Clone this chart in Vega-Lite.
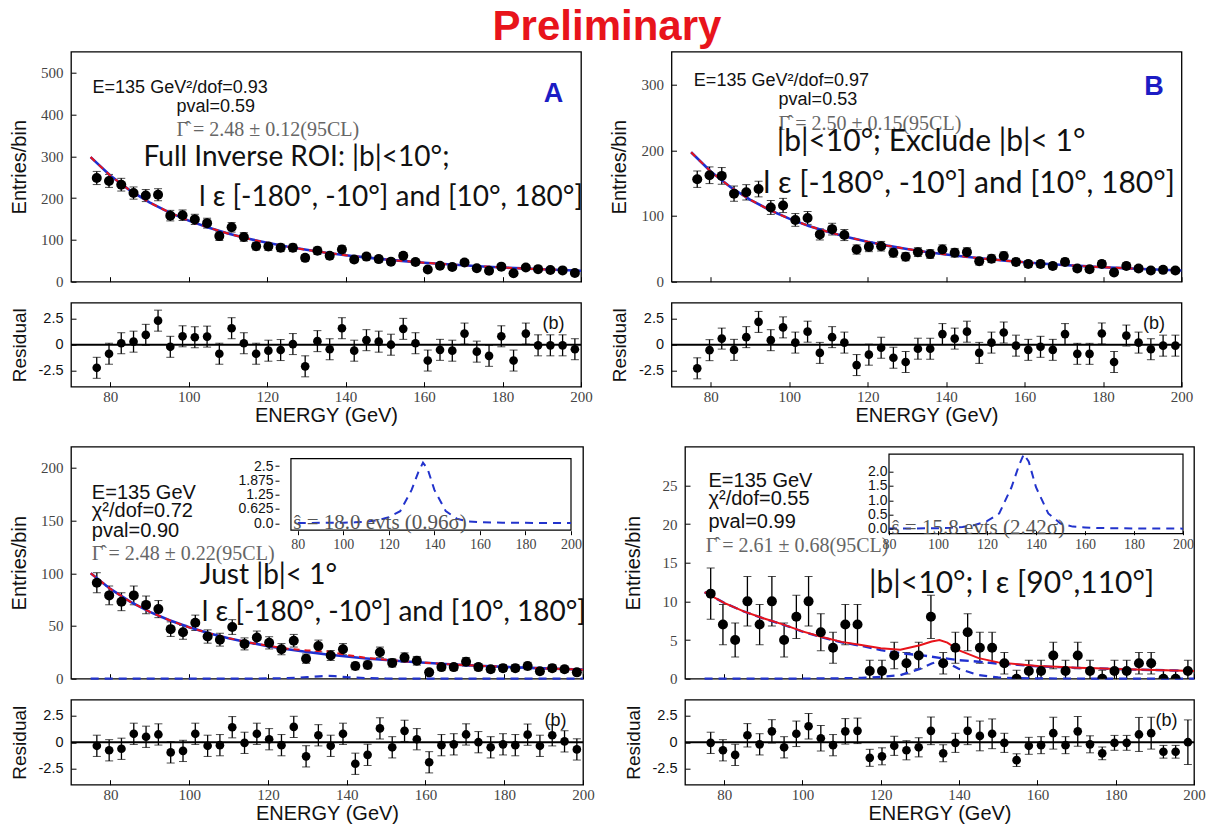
{
"$schema": "https://vega.github.io/schema/vega-lite/v6.json",
"autosize": {"type": "none"},
"padding": {"left": 71, "top": 51.7, "right": 1143, "bottom": 780.3},
"background": "white",
"title": {"text": "Preliminary", "frame": "group", "anchor": "start", "align": "center", "dx": 536, "dy": 48, "font": "Liberation Sans", "fontSize": 42, "fontWeight": "bold", "color": "#e8141b", "baseline": "alphabetic", "offset": 16.7},
"spacing": 19,
"vconcat": [
{"concat": [
 {"width": 510, "height": 230, "data": {"name": "A"}, "layer": [
  {"mark": {"type": "errorbar", "ticks": {"size": 8, "color": "#000"}, "rule": {"color": "#000", "strokeWidth": 1.3}},
   "encoding": {"x": {"field": "E", "type": "quantitative", "scale": {"domain": [75, 200]}, "axis": {"orient": "bottom", "values": [80,100,120,140,160,180,200], "labels": false, "title": null}},
    "y": {"field": "v", "type": "quantitative", "scale": {"domain": [0, 520]}, "axis": {"orient": "left", "values": [0,100,200,300,400,500], "title": "Entries/bin", "labelPadding": 13, "titleX": -52, "titleBaseline": "middle"}},
    "yError": {"field": "e"}}},
  {"data": {"name": "fA"}, "mark": {"type": "line", "color": "#1f2fd0", "strokeWidth": 2.6}, "encoding": {"x": {"field": "E", "type": "quantitative"}, "y": {"field": "bg", "type": "quantitative"}}},
  {"data": {"name": "fA"}, "mark": {"type": "line", "color": "#e8141b", "strokeWidth": 2, "strokeDash": [6, 5]}, "encoding": {"x": {"field": "E", "type": "quantitative"}, "y": {"field": "bg", "type": "quantitative"}}},
  {"mark": {"type": "point", "filled": true, "size": 100, "color": "#000", "opacity": 1}, "encoding": {"x": {"field": "E", "type": "quantitative"}, "y": {"field": "v", "type": "quantitative"}}},
  {"data": {"name": "tA"}, "transform": [{"filter": "datum.k == 'i'"}], "mark": {"type": "text", "align": "left", "baseline": "middle", "font": "Liberation Sans", "fontSize": 18, "color": "#111"}, "encoding": {"x": {"field": "x", "type": "quantitative"}, "y": {"field": "y", "type": "quantitative"}, "text": {"field": "t"}}},
  {"data": {"name": "tA"}, "transform": [{"filter": "datum.k == 'g'"}], "mark": {"type": "text", "align": "left", "baseline": "middle", "font": "Liberation Serif", "fontSize": 20, "color": "#666"}, "encoding": {"x": {"field": "x", "type": "quantitative"}, "y": {"field": "y", "type": "quantitative"}, "text": {"field": "t"}}},
  {"data": {"name": "tA"}, "transform": [{"filter": "datum.k == 'b'"}], "mark": {"type": "text", "align": "left", "baseline": "middle", "font": "Lato", "fontSize": 28, "color": "#111"}, "encoding": {"x": {"field": "x", "type": "quantitative"}, "y": {"field": "y", "type": "quantitative"}, "text": {"field": "t"}}},
  {"data": {"name": "tA"}, "transform": [{"filter": "datum.k == 'l'"}], "mark": {"type": "text", "align": "center", "baseline": "middle", "font": "Liberation Sans", "fontWeight": "bold", "fontSize": 27, "color": "#1c1cc4"}, "encoding": {"x": {"field": "x", "type": "quantitative"}, "y": {"field": "y", "type": "quantitative"}, "text": {"field": "t"}}}
 ]},
 {"width": 510, "height": 230, "data": {"name": "B"}, "layer": [
  {"mark": {"type": "errorbar", "ticks": {"size": 8, "color": "#000"}, "rule": {"color": "#000", "strokeWidth": 1.3}},
   "encoding": {"x": {"field": "E", "type": "quantitative", "scale": {"domain": [75, 200]}, "axis": {"orient": "bottom", "values": [80,100,120,140,160,180,200], "labels": false, "title": null}},
    "y": {"field": "v", "type": "quantitative", "scale": {"domain": [0, 345]}, "axis": {"orient": "left", "values": [0,50,100,150,200,250,300], "title": "Entries/bin", "labelPadding": 13, "titleX": -52, "titleBaseline": "middle"}},
    "yError": {"field": "e"}}},
  {"data": {"name": "fB"}, "mark": {"type": "line", "color": "#1f2fd0", "strokeWidth": 2.6}, "encoding": {"x": {"field": "E", "type": "quantitative"}, "y": {"field": "bg", "type": "quantitative"}}},
  {"data": {"name": "fB"}, "mark": {"type": "line", "color": "#e8141b", "strokeWidth": 2, "strokeDash": [6, 5]}, "encoding": {"x": {"field": "E", "type": "quantitative"}, "y": {"field": "bg", "type": "quantitative"}}},
  {"mark": {"type": "point", "filled": true, "size": 100, "color": "#000", "opacity": 1}, "encoding": {"x": {"field": "E", "type": "quantitative"}, "y": {"field": "v", "type": "quantitative"}}},
  {"data": {"name": "tB"}, "transform": [{"filter": "datum.k == 'i'"}], "mark": {"type": "text", "align": "left", "baseline": "middle", "font": "Liberation Sans", "fontSize": 18, "color": "#111"}, "encoding": {"x": {"field": "x", "type": "quantitative"}, "y": {"field": "y", "type": "quantitative"}, "text": {"field": "t"}}},
  {"data": {"name": "tB"}, "transform": [{"filter": "datum.k == 'g'"}], "mark": {"type": "text", "align": "left", "baseline": "middle", "font": "Liberation Serif", "fontSize": 20, "color": "#666"}, "encoding": {"x": {"field": "x", "type": "quantitative"}, "y": {"field": "y", "type": "quantitative"}, "text": {"field": "t"}}},
  {"data": {"name": "tB"}, "transform": [{"filter": "datum.k == 'b'"}], "mark": {"type": "text", "align": "left", "baseline": "middle", "font": "Lato", "fontSize": 30, "color": "#111"}, "encoding": {"x": {"field": "x", "type": "quantitative"}, "y": {"field": "y", "type": "quantitative"}, "text": {"field": "t"}}},
  {"data": {"name": "tB"}, "transform": [{"filter": "datum.k == 'l'"}], "mark": {"type": "text", "align": "center", "baseline": "middle", "font": "Liberation Sans", "fontWeight": "bold", "fontSize": 27, "color": "#1c1cc4"}, "encoding": {"x": {"field": "x", "type": "quantitative"}, "y": {"field": "y", "type": "quantitative"}, "text": {"field": "t"}}}
 ]},
 {"width": 510, "height": 84, "data": {"name": "A"}, "layer": [
  {"mark": {"type": "errorbar", "ticks": {"size": 8, "color": "#000"}, "rule": {"color": "#000", "strokeWidth": 1.3}},
   "encoding": {"x": {"field": "E", "type": "quantitative", "scale": {"domain": [75, 200]}, "axis": {"orient": "bottom", "values": [80,100,120,140,160,180,200], "title": "ENERGY (GeV)", "labelPadding": 8, "titlePadding": 1}},
    "y": {"field": "r", "type": "quantitative", "scale": {"domain": [-3.6, 3.6]}, "axis": {"orient": "left", "values": [-2.5, 0, 2.5], "labelExpr": "datum.value < 0 ? '-2.5' : (datum.value > 0 ? '2.5' : '0')", "title": "Residual", "titleFontSize": 19, "labelFont": "Liberation Sans", "labelFontSize": 14.5, "labelColor": "#111", "labelPadding": 13, "titleX": -52, "titleBaseline": "middle"}},
    "yError": {"field": "re"}}},
  {"data": {"name": "tb"}, "mark": {"type": "rule", "color": "#000", "strokeWidth": 2}, "encoding": {"y": {"datum": 0}}},
  {"mark": {"type": "point", "filled": true, "size": 75, "color": "#000", "opacity": 1}, "encoding": {"x": {"field": "E", "type": "quantitative"}, "y": {"field": "r", "type": "quantitative"}}},
  {"data": {"name": "tb"}, "mark": {"type": "text", "align": "center", "baseline": "middle", "font": "Liberation Sans", "fontSize": 18, "color": "#111"}, "encoding": {"x": {"field": "x", "type": "quantitative"}, "y": {"field": "y", "type": "quantitative"}, "text": {"field": "t"}}}
 ]},
 {"width": 510, "height": 84, "data": {"name": "B"}, "layer": [
  {"mark": {"type": "errorbar", "ticks": {"size": 8, "color": "#000"}, "rule": {"color": "#000", "strokeWidth": 1.3}},
   "encoding": {"x": {"field": "E", "type": "quantitative", "scale": {"domain": [75, 200]}, "axis": {"orient": "bottom", "values": [80,100,120,140,160,180,200], "title": "ENERGY (GeV)", "labelPadding": 8, "titlePadding": 1}},
    "y": {"field": "r", "type": "quantitative", "scale": {"domain": [-3.6, 3.6]}, "axis": {"orient": "left", "values": [-2.5, 0, 2.5], "labelExpr": "datum.value < 0 ? '-2.5' : (datum.value > 0 ? '2.5' : '0')", "title": "Residual", "titleFontSize": 19, "labelFont": "Liberation Sans", "labelFontSize": 14.5, "labelColor": "#111", "labelPadding": 13, "titleX": -52, "titleBaseline": "middle"}},
    "yError": {"field": "re"}}},
  {"data": {"name": "tb"}, "mark": {"type": "rule", "color": "#000", "strokeWidth": 2}, "encoding": {"y": {"datum": 0}}},
  {"mark": {"type": "point", "filled": true, "size": 75, "color": "#000", "opacity": 1}, "encoding": {"x": {"field": "E", "type": "quantitative"}, "y": {"field": "r", "type": "quantitative"}}},
  {"data": {"name": "tb"}, "mark": {"type": "text", "align": "center", "baseline": "middle", "font": "Liberation Sans", "fontSize": 18, "color": "#111"}, "encoding": {"x": {"field": "x", "type": "quantitative"}, "y": {"field": "y", "type": "quantitative"}, "text": {"field": "t"}}}
 ]}
], "columns": 2, "bounds": "flush", "spacing": {"row": 21, "column": 90.5}},
{"concat": [
 {"width": 512, "height": 232, "layer": [
  {"data": {"name": "C"}, "layer": [
   {"mark": {"type": "errorbar", "ticks": {"size": 8, "color": "#000"}, "rule": {"color": "#000", "strokeWidth": 1.3}},
    "encoding": {"x": {"field": "E", "type": "quantitative", "scale": {"domain": [75, 200]}, "axis": {"orient": "bottom", "values": [80,100,120,140,160,180,200], "labels": false, "title": null}},
     "y": {"field": "v", "type": "quantitative", "scale": {"domain": [0, 201.7]}, "axis": {"orient": "left", "values": [0,50,100,150,200], "title": "Entries/bin", "labelPadding": 13, "titleX": -52, "titleBaseline": "middle"}},
     "yError": {"field": "e"}}},
   {"data": {"name": "fC"}, "mark": {"type": "line", "color": "#2233cc", "strokeWidth": 2.2, "strokeDash": [8, 6]}, "encoding": {"x": {"field": "E", "type": "quantitative"}, "y": {"field": "sig", "type": "quantitative"}}},
   {"data": {"name": "fC"}, "mark": {"type": "line", "color": "#1f2fd0", "strokeWidth": 2.6}, "encoding": {"x": {"field": "E", "type": "quantitative"}, "y": {"field": "bg", "type": "quantitative"}}},
   {"data": {"name": "fC"}, "mark": {"type": "line", "color": "#e8141b", "strokeWidth": 2, "strokeDash": [6, 5]}, "encoding": {"x": {"field": "E", "type": "quantitative"}, "y": {"field": "tot", "type": "quantitative"}}},
   {"mark": {"type": "point", "filled": true, "size": 100, "color": "#000", "opacity": 1}, "encoding": {"x": {"field": "E", "type": "quantitative"}, "y": {"field": "v", "type": "quantitative"}}},
   {"data": {"name": "tC"}, "transform": [{"filter": "datum.k == 'i'"}], "mark": {"type": "text", "align": "left", "baseline": "middle", "font": "Liberation Sans", "fontSize": 20, "color": "#111"}, "encoding": {"x": {"field": "x", "type": "quantitative"}, "y": {"field": "y", "type": "quantitative"}, "text": {"field": "t"}}},
   {"data": {"name": "tC"}, "transform": [{"filter": "datum.k == 'g'"}], "mark": {"type": "text", "align": "left", "baseline": "middle", "font": "Liberation Serif", "fontSize": 20, "color": "#666"}, "encoding": {"x": {"field": "x", "type": "quantitative"}, "y": {"field": "y", "type": "quantitative"}, "text": {"field": "t"}}},
   {"data": {"name": "tC"}, "transform": [{"filter": "datum.k == 'b'"}], "mark": {"type": "text", "align": "left", "baseline": "middle", "font": "Lato", "fontSize": 28, "color": "#111"}, "encoding": {"x": {"field": "x", "type": "quantitative"}, "y": {"field": "y", "type": "quantitative"}, "text": {"field": "t"}}},
   {"data": {"name": "tC"}, "transform": [{"filter": "datum.k == 'l'"}], "mark": {"type": "text", "align": "center", "baseline": "middle", "font": "Liberation Sans", "fontWeight": "bold", "fontSize": 27, "color": "#1c1cc4"}, "encoding": {"x": {"field": "x", "type": "quantitative"}, "y": {"field": "y", "type": "quantitative"}, "text": {"field": "t"}}}
  ]},
  {"layer": [
   {"data": {"name": "tb"}, "mark": {"type": "rect", "fill": "#fff", "stroke": "#000", "strokeWidth": 1.2},
    "encoding": {"x": {"datum": 77, "type": "quantitative", "scale": {"domain": [77, 200], "range": [204, 500]}, "axis": {"orient": "bottom", "offset": -144, "values": [80,100,120,140,160,180,200], "title": null, "tickSize": -4, "labelPadding": 7, "labelFontSize": 14, "zindex": 1}},
     "x2": {"datum": 200},
     "y": {"datum": -0.3, "type": "quantitative", "scale": {"domain": [-0.3, 2.83], "range": [88, 8]}, "axis": {"orient": "left", "offset": -204, "values": [0, 0.625, 1.25, 1.875, 2.5], "labelExpr": "datum.value == 0 ? '0.0' : '' + datum.value", "title": null, "tickSize": -4, "labelPadding": 6, "labelFont": "Liberation Sans", "labelFontSize": 14, "labelColor": "#111", "zindex": 1}},
     "y2": {"datum": 2.83}}},
   {"data": {"name": "fC"}, "transform": [{"filter": "datum.E >= 77"}], "mark": {"type": "line", "color": "#2233cc", "strokeWidth": 2, "strokeDash": [8, 6]}, "encoding": {"x": {"field": "E", "type": "quantitative"}, "y": {"field": "sig", "type": "quantitative"}}},
   {"data": {"name": "iC"}, "mark": {"type": "text", "align": "left", "baseline": "middle", "font": "Liberation Serif", "fontSize": 21, "color": "#555"}, "encoding": {"x": {"field": "x", "type": "quantitative"}, "y": {"field": "y", "type": "quantitative"}, "text": {"field": "t"}}}
  ]}
 ], "resolve": {"scale": {"x": "independent", "y": "independent"}}},
 {"width": 509, "height": 232, "layer": [
  {"data": {"name": "D"}, "layer": [
   {"mark": {"type": "errorbar", "clip": true, "ticks": {"size": 8, "color": "#000"}, "rule": {"color": "#000", "strokeWidth": 1.3}},
    "encoding": {"x": {"field": "E", "type": "quantitative", "scale": {"domain": [75, 200]}, "axis": {"orient": "bottom", "values": [80,100,120,140,160,180,200], "labels": false, "title": null}},
     "y": {"field": "v", "type": "quantitative", "scale": {"domain": [0, 29.1]}, "axis": {"orient": "left", "values": [0,5,10,15,20,25], "title": "Entries/bin", "labelPadding": 13, "titleX": -52, "titleBaseline": "middle"}},
     "yError": {"field": "e"}}},
   {"data": {"name": "fD"}, "mark": {"type": "line", "color": "#2233cc", "strokeWidth": 2.2, "strokeDash": [8, 6]}, "encoding": {"x": {"field": "E", "type": "quantitative"}, "y": {"field": "sig", "type": "quantitative"}}},
   {"data": {"name": "fD"}, "mark": {"type": "line", "color": "#1f2fd0", "strokeWidth": 2.4, "strokeDash": [9, 5]}, "encoding": {"x": {"field": "E", "type": "quantitative"}, "y": {"field": "bg", "type": "quantitative"}}},
   {"data": {"name": "fD"}, "mark": {"type": "line", "color": "#e8141b", "strokeWidth": 2}, "encoding": {"x": {"field": "E", "type": "quantitative"}, "y": {"field": "tot", "type": "quantitative"}}},
   {"mark": {"type": "point", "filled": true, "size": 100, "color": "#000", "opacity": 1, "clip": true}, "encoding": {"x": {"field": "E", "type": "quantitative"}, "y": {"field": "v", "type": "quantitative"}}},
   {"data": {"name": "tD"}, "transform": [{"filter": "datum.k == 'i'"}], "mark": {"type": "text", "align": "left", "baseline": "middle", "font": "Liberation Sans", "fontSize": 20, "color": "#111"}, "encoding": {"x": {"field": "x", "type": "quantitative"}, "y": {"field": "y", "type": "quantitative"}, "text": {"field": "t"}}},
   {"data": {"name": "tD"}, "transform": [{"filter": "datum.k == 'g'"}], "mark": {"type": "text", "align": "left", "baseline": "middle", "font": "Liberation Serif", "fontSize": 20, "color": "#666"}, "encoding": {"x": {"field": "x", "type": "quantitative"}, "y": {"field": "y", "type": "quantitative"}, "text": {"field": "t"}}},
   {"data": {"name": "tD"}, "transform": [{"filter": "datum.k == 'b'"}], "mark": {"type": "text", "align": "left", "baseline": "middle", "font": "Lato", "fontSize": 30, "color": "#111"}, "encoding": {"x": {"field": "x", "type": "quantitative"}, "y": {"field": "y", "type": "quantitative"}, "text": {"field": "t"}}},
   {"data": {"name": "tD"}, "transform": [{"filter": "datum.k == 'l'"}], "mark": {"type": "text", "align": "center", "baseline": "middle", "font": "Liberation Sans", "fontWeight": "bold", "fontSize": 27, "color": "#1c1cc4"}, "encoding": {"x": {"field": "x", "type": "quantitative"}, "y": {"field": "y", "type": "quantitative"}, "text": {"field": "t"}}}
  ]},
  {"layer": [
   {"data": {"name": "tb"}, "mark": {"type": "rect", "fill": "#fff", "stroke": "#000", "strokeWidth": 1.2},
    "encoding": {"x": {"datum": 80, "type": "quantitative", "scale": {"domain": [80, 200], "range": [204, 498]}, "axis": {"orient": "bottom", "offset": -144, "values": [80,100,120,140,160,180,200], "title": null, "tickSize": -4, "labelPadding": 7, "labelFontSize": 14, "zindex": 1}},
     "x2": {"datum": 200},
     "y": {"datum": -0.16, "type": "quantitative", "scale": {"domain": [-0.16, 2.6], "range": [88, 7.5]}, "axis": {"orient": "left", "offset": -204, "values": [0, 0.5, 1, 1.5, 2], "format": ".1f", "title": null, "tickSize": -4, "labelPadding": 6, "labelFont": "Liberation Sans", "labelFontSize": 14, "labelColor": "#111", "zindex": 1}},
     "y2": {"datum": 2.6}}},
   {"data": {"name": "fD"}, "transform": [{"filter": "datum.E >= 80"}], "mark": {"type": "line", "color": "#2233cc", "strokeWidth": 2, "strokeDash": [8, 6]}, "encoding": {"x": {"field": "E", "type": "quantitative"}, "y": {"field": "ins", "type": "quantitative"}}},
   {"data": {"name": "iD"}, "mark": {"type": "text", "align": "left", "baseline": "middle", "font": "Liberation Serif", "fontSize": 21, "color": "#555"}, "encoding": {"x": {"field": "x", "type": "quantitative"}, "y": {"field": "y", "type": "quantitative"}, "text": {"field": "t"}}}
  ]}
 ], "resolve": {"scale": {"x": "independent", "y": "independent"}}},
 {"width": 512, "height": 85, "data": {"name": "C"}, "layer": [
  {"mark": {"type": "errorbar", "ticks": {"size": 8, "color": "#000"}, "rule": {"color": "#000", "strokeWidth": 1.3}},
   "encoding": {"x": {"field": "E", "type": "quantitative", "scale": {"domain": [75, 200]}, "axis": {"orient": "bottom", "values": [80,100,120,140,160,180,200], "title": "ENERGY (GeV)", "labelPadding": 8, "titlePadding": 1}},
    "y": {"field": "r", "type": "quantitative", "scale": {"domain": [-3.6, 3.6]}, "axis": {"orient": "left", "values": [-2.5, 0, 2.5], "labelExpr": "datum.value < 0 ? '-2.5' : (datum.value > 0 ? '2.5' : '0')", "title": "Residual", "titleFontSize": 19, "labelFont": "Liberation Sans", "labelFontSize": 14.5, "labelColor": "#111", "labelPadding": 13, "titleX": -52, "titleBaseline": "middle"}},
    "yError": {"field": "re"}}},
  {"data": {"name": "tb"}, "mark": {"type": "rule", "color": "#000", "strokeWidth": 2}, "encoding": {"y": {"datum": 0}}},
  {"mark": {"type": "point", "filled": true, "size": 75, "color": "#000", "opacity": 1}, "encoding": {"x": {"field": "E", "type": "quantitative"}, "y": {"field": "r", "type": "quantitative"}}},
  {"data": {"name": "tb"}, "mark": {"type": "text", "align": "center", "baseline": "middle", "font": "Liberation Sans", "fontSize": 18, "color": "#111"}, "encoding": {"x": {"field": "x", "type": "quantitative"}, "y": {"field": "y", "type": "quantitative"}, "text": {"field": "t"}}}
 ]},
 {"width": 509, "height": 85, "data": {"name": "D"}, "layer": [
  {"mark": {"type": "errorbar", "ticks": {"size": 8, "color": "#000"}, "rule": {"color": "#000", "strokeWidth": 1.3}},
   "encoding": {"x": {"field": "E", "type": "quantitative", "scale": {"domain": [75, 200]}, "axis": {"orient": "bottom", "values": [80,100,120,140,160,180,200], "title": "ENERGY (GeV)", "labelPadding": 8, "titlePadding": 1}},
    "y": {"field": "r", "type": "quantitative", "scale": {"domain": [-3.6, 3.6]}, "axis": {"orient": "left", "values": [-2.5, 0, 2.5], "labelExpr": "datum.value < 0 ? '-2.5' : (datum.value > 0 ? '2.5' : '0')", "title": "Residual", "titleFontSize": 19, "labelFont": "Liberation Sans", "labelFontSize": 14.5, "labelColor": "#111", "labelPadding": 13, "titleX": -52, "titleBaseline": "middle"}},
    "yError": {"field": "re"}}},
  {"data": {"name": "tb"}, "mark": {"type": "rule", "color": "#000", "strokeWidth": 2}, "encoding": {"y": {"datum": 0}}},
  {"mark": {"type": "point", "filled": true, "size": 75, "color": "#000", "opacity": 1}, "encoding": {"x": {"field": "E", "type": "quantitative"}, "y": {"field": "r", "type": "quantitative"}}},
  {"data": {"name": "tb"}, "mark": {"type": "text", "align": "center", "baseline": "middle", "font": "Liberation Sans", "fontSize": 18, "color": "#111"}, "encoding": {"x": {"field": "x", "type": "quantitative"}, "y": {"field": "y", "type": "quantitative"}, "text": {"field": "t"}}}
 ]}
], "columns": 2, "bounds": "flush", "spacing": {"row": 21, "column": 102}}
],
"datasets": {
"A": [
{"E":76.56,"v":248,"e":15.7,"r":-2.2,"re":1},{"E":79.69,"v":241,"e":15.5,"r":-0.86,"re":1},{"E":82.81,"v":232,"e":15.2,"r":0.14,"re":1},{"E":85.94,"v":212,"e":14.6,"r":0.29,"re":1},{"E":89.06,"v":206,"e":14.4,"r":0.94,"re":1},{"E":92.19,"v":208,"e":14.4,"r":2.29,"re":1},{"E":95.31,"v":158,"e":12.6,"r":-0.2,"re":1},{"E":98.44,"v":159,"e":12.6,"r":0.8,"re":1},{"E":101.56,"v":149,"e":12.2,"r":0.71,"re":1},{"E":104.69,"v":140,"e":11.8,"r":0.77,"re":1},
{"E":107.81,"v":109,"e":10.4,"r":-0.86,"re":1},{"E":110.94,"v":130,"e":11.4,"r":1.57,"re":1},{"E":114.06,"v":107,"e":10.3,"r":0.14,"re":1},{"E":117.19,"v":85,"e":9.2,"r":-0.86,"re":1},{"E":120.31,"v":84,"e":9.2,"r":-0.57,"re":1},{"E":123.44,"v":81,"e":9,"r":-0.51,"re":1},{"E":126.56,"v":81,"e":9,"r":0.06,"re":1},{"E":129.69,"v":57,"e":7.5,"r":-2.06,"re":1},{"E":132.81,"v":74,"e":8.6,"r":0.34,"re":1},{"E":135.94,"v":62,"e":7.9,"r":-0.43,"re":1},
{"E":139.06,"v":77,"e":8.8,"r":1.57,"re":1},{"E":142.19,"v":53,"e":7.3,"r":-0.57,"re":1},{"E":145.31,"v":60,"e":7.7,"r":0.43,"re":1},{"E":148.44,"v":54,"e":7.3,"r":0.29,"re":1},{"E":151.56,"v":48,"e":6.9,"r":0,"re":1},{"E":154.69,"v":62,"e":7.9,"r":1.51,"re":1},{"E":157.81,"v":47,"e":6.9,"r":0.14,"re":1},{"E":160.94,"v":29,"e":5.4,"r":-1.51,"re":1},{"E":164.06,"v":38,"e":6.2,"r":-0.49,"re":1},{"E":167.19,"v":35,"e":5.9,"r":-0.57,"re":1},
{"E":170.31,"v":46,"e":6.8,"r":1.06,"re":1},{"E":173.44,"v":32,"e":5.7,"r":-0.66,"re":1},{"E":176.56,"v":26,"e":5.1,"r":-1.06,"re":1},{"E":179.69,"v":36,"e":6,"r":0.8,"re":1},{"E":182.81,"v":20,"e":4.5,"r":-1.51,"re":1},{"E":185.94,"v":34,"e":5.8,"r":1.06,"re":1},{"E":189.06,"v":30,"e":5.5,"r":-0.06,"re":1},{"E":192.19,"v":28,"e":5.3,"r":-0.06,"re":1},{"E":195.31,"v":27,"e":5.2,"r":-0.06,"re":1},{"E":198.44,"v":21,"e":4.6,"r":-0.43,"re":1}
],
"B": [
{"E":76.56,"v":156,"e":12.5,"r":-2.25,"re":1},{"E":79.69,"v":162,"e":12.7,"r":-0.52,"re":1},{"E":82.81,"v":161,"e":12.7,"r":0.58,"re":1},{"E":85.94,"v":134,"e":11.6,"r":-0.49,"re":1},{"E":89.06,"v":136,"e":11.7,"r":0.72,"re":1},{"E":92.19,"v":141,"e":11.9,"r":2.17,"re":1},{"E":95.31,"v":113,"e":10.6,"r":0.43,"re":1},{"E":98.44,"v":116,"e":10.8,"r":1.65,"re":1},{"E":101.56,"v":94,"e":9.7,"r":0.2,"re":1},{"E":104.69,"v":97,"e":9.8,"r":1.24,"re":1},
{"E":107.81,"v":72,"e":8.5,"r":-0.78,"re":1},{"E":110.94,"v":80,"e":8.9,"r":0.72,"re":1},{"E":114.06,"v":71,"e":8.4,"r":0.2,"re":1},{"E":117.19,"v":49,"e":7,"r":-1.94,"re":1},{"E":120.31,"v":53,"e":7.3,"r":-0.95,"re":1},{"E":123.44,"v":54,"e":7.3,"r":-0.29,"re":1},{"E":126.56,"v":44,"e":6.6,"r":-1.24,"re":1},{"E":129.69,"v":38,"e":6.2,"r":-1.65,"re":1},{"E":132.81,"v":45,"e":6.7,"r":-0.38,"re":1},{"E":135.94,"v":42,"e":6.5,"r":-0.38,"re":1},
{"E":139.06,"v":49,"e":7,"r":1.01,"re":1},{"E":142.19,"v":44,"e":6.6,"r":0.58,"re":1},{"E":145.31,"v":45,"e":6.7,"r":1.24,"re":1},{"E":148.44,"v":31,"e":5.6,"r":-0.78,"re":1},{"E":151.56,"v":35,"e":5.9,"r":0.2,"re":1},{"E":154.69,"v":39,"e":6.2,"r":1.16,"re":1},{"E":157.81,"v":30,"e":5.5,"r":-0.09,"re":1},{"E":160.94,"v":27,"e":5.2,"r":-0.49,"re":1},{"E":164.06,"v":27,"e":5.2,"r":-0.2,"re":1},{"E":167.19,"v":24,"e":4.9,"r":-0.49,"re":1},
{"E":170.31,"v":30,"e":5.5,"r":1.01,"re":1},{"E":173.44,"v":20,"e":4.5,"r":-0.87,"re":1},{"E":176.56,"v":19,"e":4.4,"r":-0.87,"re":1},{"E":179.69,"v":27,"e":5.2,"r":1.07,"re":1},{"E":182.81,"v":14,"e":3.7,"r":-1.65,"re":1},{"E":185.94,"v":24,"e":4.9,"r":0.87,"re":1},{"E":189.06,"v":20,"e":4.5,"r":0.2,"re":1},{"E":192.19,"v":17,"e":4.1,"r":-0.43,"re":1},{"E":195.31,"v":18,"e":4.2,"r":-0.09,"re":1},{"E":198.44,"v":17,"e":4.1,"r":-0.09,"re":1}
],
"C": [
{"E":76.56,"v":91,"e":9.5,"r":-0.34,"re":1},{"E":79.69,"v":79,"e":8.9,"r":-0.76,"re":1},{"E":82.81,"v":73,"e":8.5,"r":-0.62,"re":1},{"E":85.94,"v":79,"e":8.9,"r":0.79,"re":1},{"E":89.06,"v":70,"e":8.4,"r":0.51,"re":1},{"E":92.19,"v":66,"e":8.1,"r":0.73,"re":1},{"E":95.31,"v":47,"e":6.9,"r":-0.96,"re":1},{"E":98.44,"v":44,"e":6.6,"r":-0.82,"re":1},{"E":101.56,"v":53,"e":7.3,"r":0.79,"re":1},{"E":104.69,"v":40,"e":6.3,"r":-0.34,"re":1},
{"E":107.81,"v":37,"e":6.1,"r":-0.28,"re":1},{"E":110.94,"v":49,"e":7,"r":1.41,"re":1},{"E":114.06,"v":33,"e":5.7,"r":-0.06,"re":1},{"E":117.19,"v":39,"e":6.2,"r":0.79,"re":1},{"E":120.31,"v":34,"e":5.8,"r":0.28,"re":1},{"E":123.44,"v":28,"e":5.3,"r":-0.28,"re":1},{"E":126.56,"v":36,"e":6,"r":1.44,"re":1},{"E":129.69,"v":19,"e":4.4,"r":-1.33,"re":1},{"E":132.81,"v":31,"e":5.6,"r":0.65,"re":1},{"E":135.94,"v":22,"e":4.7,"r":-0.34,"re":1},
{"E":139.06,"v":28,"e":5.3,"r":0.79,"re":1},{"E":142.19,"v":12,"e":3.5,"r":-2.03,"re":1},{"E":145.31,"v":13,"e":3.6,"r":-1.19,"re":1},{"E":148.44,"v":25,"e":5,"r":1.3,"re":1},{"E":151.56,"v":15,"e":3.9,"r":-0.48,"re":1},{"E":154.69,"v":20,"e":4.5,"r":1.07,"re":1},{"E":157.81,"v":17,"e":4.1,"r":0.28,"re":1},{"E":160.94,"v":6,"e":2.4,"r":-1.89,"re":1},{"E":164.06,"v":11,"e":3.3,"r":-0.28,"re":1},{"E":167.19,"v":11,"e":3.3,"r":-0.2,"re":1},
{"E":170.31,"v":16,"e":4,"r":0.73,"re":1},{"E":173.44,"v":11,"e":3.3,"r":0,"re":1},{"E":176.56,"v":9,"e":3,"r":-0.48,"re":1},{"E":179.69,"v":10,"e":3.2,"r":-0.2,"re":1},{"E":182.81,"v":10,"e":3.2,"r":-0.28,"re":1},{"E":185.94,"v":12,"e":3.5,"r":0.71,"re":1},{"E":189.06,"v":7,"e":2.6,"r":-0.34,"re":1},{"E":192.19,"v":10,"e":3.2,"r":0.65,"re":1},{"E":195.31,"v":9,"e":3,"r":0.08,"re":1},{"E":198.44,"v":6,"e":2.4,"r":-0.68,"re":1}
],
"D": [
{"E":76.56,"v":11,"e":3.3,"r":-0.06,"re":1},{"E":79.69,"v":7,"e":2.6,"r":-0.76,"re":1},{"E":82.81,"v":5,"e":2.2,"r":-1.19,"re":1},{"E":85.94,"v":10,"e":3.2,"r":0.65,"re":1.1},{"E":89.06,"v":7,"e":2.6,"r":-0.2,"re":1},{"E":92.19,"v":10,"e":3.2,"r":1.02,"re":1.1},{"E":95.31,"v":5,"e":2.2,"r":-0.48,"re":1},{"E":98.44,"v":8,"e":2.8,"r":0.79,"re":1.2},{"E":101.56,"v":10,"e":3.2,"r":1.5,"re":1.2},{"E":104.69,"v":6,"e":2.4,"r":0.37,"re":1.2},
{"E":107.81,"v":4,"e":2,"r":-0.28,"re":1},{"E":110.94,"v":7,"e":2.6,"r":1.02,"re":1.2},{"E":114.06,"v":7,"e":2.6,"r":1.07,"re":1.2},{"E":117.19,"v":1,"e":1.4,"r":-1.47,"re":0.8},{"E":120.31,"v":1,"e":1.4,"r":-1.33,"re":0.8},{"E":123.44,"v":3,"e":1.7,"r":-0.34,"re":0.9},{"E":126.56,"v":2,"e":1.4,"r":-0.76,"re":0.9},{"E":129.69,"v":3,"e":1.7,"r":-0.48,"re":0.9},{"E":132.81,"v":8,"e":2.8,"r":1.07,"re":1.3},{"E":135.94,"v":2,"e":1.4,"r":-1.05,"re":0.8},
{"E":139.06,"v":4,"e":2,"r":-0.06,"re":0.9},{"E":142.19,"v":6,"e":2.4,"r":1.07,"re":1.3},{"E":145.31,"v":4,"e":2,"r":0.59,"re":1.4},{"E":148.44,"v":4,"e":2,"r":0.79,"re":1.4},{"E":151.56,"v":2,"e":1.4,"r":-0.06,"re":0.9},{"E":154.69,"v":0,"e":1.1,"r":-1.69,"re":0.6},{"E":157.81,"v":1,"e":1.4,"r":-0.34,"re":0.8},{"E":160.94,"v":1,"e":1.4,"r":-0.28,"re":0.8},{"E":164.06,"v":3,"e":1.7,"r":0.85,"re":1.5},{"E":167.19,"v":1,"e":1.4,"r":-0.28,"re":0.8},
{"E":170.31,"v":3,"e":1.7,"r":1.02,"re":1.4},{"E":173.44,"v":1,"e":1.4,"r":-0.2,"re":0.8},{"E":176.56,"v":0,"e":1.1,"r":-1.05,"re":0.6},{"E":179.69,"v":1,"e":1.4,"r":-0.06,"re":0.7},{"E":182.81,"v":1,"e":1.4,"r":-0.06,"re":0.7},{"E":185.94,"v":2,"e":1.4,"r":0.73,"re":1.6},{"E":189.06,"v":2,"e":1.4,"r":0.85,"re":1.5},{"E":192.19,"v":0,"e":1.1,"r":-0.9,"re":0.6},{"E":195.31,"v":0,"e":1.1,"r":-0.9,"re":0.6},{"E":198.44,"v":1,"e":1.4,"r":0,"re":2.1}
],
"fA": [
{"E":75,"bg":298},{"E":80,"bg":253.9},{"E":85,"bg":218.5},{"E":90,"bg":189.6},{"E":95,"bg":165.8},{"E":100,"bg":146},{"E":105,"bg":129.4},{"E":110,"bg":115.3},{"E":115,"bg":103.2},{"E":120,"bg":92.9},{"E":125,"bg":84},{"E":130,"bg":76.2},{"E":135,"bg":69.4},{"E":140,"bg":63.4},{"E":145,"bg":58.1},{"E":150,"bg":53.4},{"E":155,"bg":49.2},{"E":160,"bg":45.5},{"E":165,"bg":42.2},{"E":170,"bg":39.2},{"E":175,"bg":36.4},{"E":180,"bg":34},{"E":185,"bg":31.8},{"E":190,"bg":29.7},{"E":195,"bg":27.8},{"E":200,"bg":26.2}
],
"fB": [
{"E":75,"bg":197},{"E":80,"bg":167.7},{"E":85,"bg":144.1},{"E":90,"bg":124.9},{"E":95,"bg":109.1},{"E":100,"bg":96},{"E":105,"bg":84.9},{"E":110,"bg":75.6},{"E":115,"bg":67.7},{"E":120,"bg":60.8},{"E":125,"bg":54.9},{"E":130,"bg":49.8},{"E":135,"bg":45.3},{"E":140,"bg":41.4},{"E":145,"bg":37.9},{"E":150,"bg":34.8},{"E":155,"bg":32.1},{"E":160,"bg":29.6},{"E":165,"bg":27.4},{"E":170,"bg":25.5},{"E":175,"bg":23.7},{"E":180,"bg":22.1},{"E":185,"bg":20.6},{"E":190,"bg":19.3},{"E":195,"bg":18.1},{"E":200,"bg":17}
],
"fC": [
{"E":75,"bg":100,"sig":0.011,"tot":100},{"E":80,"bg":85.1,"sig":0.013,"tot":85.1},{"E":85,"bg":73.1,"sig":0.016,"tot":73.1},{"E":90,"bg":63.4,"sig":0.019,"tot":63.4},{"E":95,"bg":55.4,"sig":0.021,"tot":55.4},{"E":100,"bg":48.7,"sig":0.027,"tot":48.7},{"E":105,"bg":43.1,"sig":0.04,"tot":43.1},{"E":110,"bg":38.4,"sig":0.066,"tot":38.5},{"E":115,"bg":34.4,"sig":0.13,"tot":34.5},{"E":120,"bg":30.9,"sig":0.27,"tot":31.2},
{"E":125,"bg":27.9,"sig":0.53,"tot":28.4},{"E":130,"bg":25.3,"sig":1.46,"tot":26.8},{"E":133,"bg":23.9,"sig":2.25,"tot":26.2},{"E":135,"bg":23,"sig":2.65,"tot":25.7},{"E":137,"bg":22.2,"sig":2.39,"tot":24.6},{"E":140,"bg":21,"sig":1.46,"tot":22.5},{"E":145,"bg":19.2,"sig":0.53,"tot":19.7},{"E":150,"bg":17.7,"sig":0.19,"tot":17.9},{"E":155,"bg":16.3,"sig":0.08,"tot":16.4},{"E":160,"bg":15.1,"sig":0.053,"tot":15.2},
{"E":165,"bg":13.9,"sig":0.032,"tot":13.9},{"E":170,"bg":12.9,"sig":0.027,"tot":12.9},{"E":175,"bg":12,"sig":0.021,"tot":12},{"E":180,"bg":11.2,"sig":0.019,"tot":11.2},{"E":185,"bg":10.5,"sig":0.016,"tot":10.5},{"E":190,"bg":9.8,"sig":0.013,"tot":9.8},{"E":195,"bg":9.2,"sig":0.013,"tot":9.2},{"E":200,"bg":8.6,"sig":0.011,"tot":8.6}
],
"fD": [
{"E":75,"bg":11.2,"sig":0.009,"tot":11.21,"ins":0.011},{"E":80,"bg":9.8,"sig":0.012,"tot":9.81,"ins":0.014},{"E":85,"bg":8.7,"sig":0.014,"tot":8.71,"ins":0.016},{"E":90,"bg":7.8,"sig":0.016,"tot":7.82,"ins":0.019},{"E":95,"bg":7,"sig":0.018,"tot":7.02,"ins":0.022},{"E":100,"bg":6.1,"sig":0.023,"tot":6.12,"ins":0.027},{"E":105,"bg":5.35,"sig":0.035,"tot":5.39,"ins":0.04},{"E":110,"bg":4.7,"sig":0.058,"tot":4.76,"ins":0.068},{"E":115,"bg":4.25,"sig":0.115,"tot":4.37,"ins":0.135},{"E":120,"bg":3.7,"sig":0.23,"tot":3.93,"ins":0.27},
{"E":125,"bg":3.3,"sig":0.46,"tot":3.76,"ins":0.54},{"E":130,"bg":3.05,"sig":1.27,"tot":4.32,"ins":1.45},{"E":133,"bg":2.85,"sig":1.96,"tot":4.81,"ins":2.2},{"E":135,"bg":2.7,"sig":2.3,"tot":5,"ins":2.6},{"E":137,"bg":2.6,"sig":2.07,"tot":4.67,"ins":2.35},{"E":140,"bg":2.4,"sig":1.27,"tot":3.67,"ins":1.45},{"E":145,"bg":2.2,"sig":0.46,"tot":2.66,"ins":0.54},{"E":150,"bg":1.95,"sig":0.16,"tot":2.11,"ins":0.19},{"E":155,"bg":1.8,"sig":0.069,"tot":1.87,"ins":0.081},{"E":160,"bg":1.6,"sig":0.046,"tot":1.65,"ins":0.054},
{"E":165,"bg":1.5,"sig":0.028,"tot":1.53,"ins":0.032},{"E":170,"bg":1.4,"sig":0.023,"tot":1.42,"ins":0.027},{"E":175,"bg":1.33,"sig":0.018,"tot":1.35,"ins":0.022},{"E":180,"bg":1.25,"sig":0.016,"tot":1.27,"ins":0.019},{"E":185,"bg":1.18,"sig":0.014,"tot":1.19,"ins":0.016},{"E":190,"bg":1.12,"sig":0.012,"tot":1.13,"ins":0.014},{"E":195,"bg":1.06,"sig":0.012,"tot":1.07,"ins":0.014},{"E":200,"bg":1,"sig":0.009,"tot":1.01,"ins":0.011}
],
"tA": [
{"x":75.5,"y":463,"t":"E=135 GeV²/dof=0.93","k":"i"},{"x":96.9,"y":418,"t":"pval=0.59","k":"i"},{"x":96.9,"y":362,"t":"Γ̂ = 2.48 ± 0.12(95CL)","k":"g"},{"x":88.5,"y":297,"t":"Full Inverse ROI: |b|<10°;","k":"b"},{"x":102.6,"y":200,"t":"l ε [-180°, -10°] and  [10°, 180°]","k":"b"},{"x":193,"y":449,"t":"A","k":"l"}
],
"tB": [
{"x":75.7,"y":305,"t":"E=135 GeV²/dof=0.97","k":"i"},{"x":97.3,"y":277,"t":"pval=0.53","k":"i"},{"x":97.3,"y":240,"t":"Γ̂ = 2.50 ± 0.15(95CL)","k":"g"},{"x":96.8,"y":212,"t":"|b|<10°; Exclude |b|< 1°","k":"b"},{"x":93.4,"y":149,"t":"l ε [-180°, -10°] and  [10°, 180°]","k":"b"},{"x":193,"y":296,"t":"B","k":"l"}
],
"tC": [
{"x":75.3,"y":176,"t":"E=135 GeV","k":"i"},{"x":75.3,"y":159,"t":"χ²/dof=0.72","k":"i"},{"x":75.3,"y":140,"t":"pval=0.90","k":"i"},{"x":75.3,"y":118,"t":"Γ̂ = 2.48 ± 0.22(95CL)","k":"g"},{"x":102.7,"y":97.5,"t":"Just |b|< 1°","k":"b"},{"x":103.2,"y":62.6,"t":"l ε [-180°, -10°] and  [10°, 180°]","k":"b"},{"x":193,"y":176,"t":"C","k":"l"}
],
"tD": [
{"x":76,"y":25.6,"t":"E=135 GeV","k":"i"},{"x":76,"y":23.2,"t":"χ²/dof=0.55","k":"i"},{"x":76,"y":20.3,"t":"pval=0.99","k":"i"},{"x":75.3,"y":17.2,"t":"Γ̂ = 2.61 ± 0.68(95CL)","k":"g"},{"x":117,"y":12.3,"t":"|b|<10°; l ε [90°,110°]","k":"b"},{"x":193,"y":24.8,"t":"D","k":"l"}
],
"tb": [{"x":193,"y":2.0,"t":"(b)"}],
"iC": [{"x":78,"y":0.02,"t":"ŝ = 18.0 evts (0.96σ)"}],
"iD": [{"x":81,"y":0.05,"t":"ŝ = 15.8 evts (2.42σ)"}]
},
"config": {
"view": {"stroke": "#000", "strokeWidth": 1.3},
"axis": {"grid": false, "domain": false, "labelOverlap": false, "labelFlush": false, "tickColor": "#000", "tickWidth": 1, "tickSize": -5, "titleFontWeight": "normal", "titleColor": "#111", "titleFont": "Liberation Sans", "titleFontSize": 20, "labelFont": "Liberation Serif", "labelFontSize": 15, "labelColor": "#444"}
}
}
